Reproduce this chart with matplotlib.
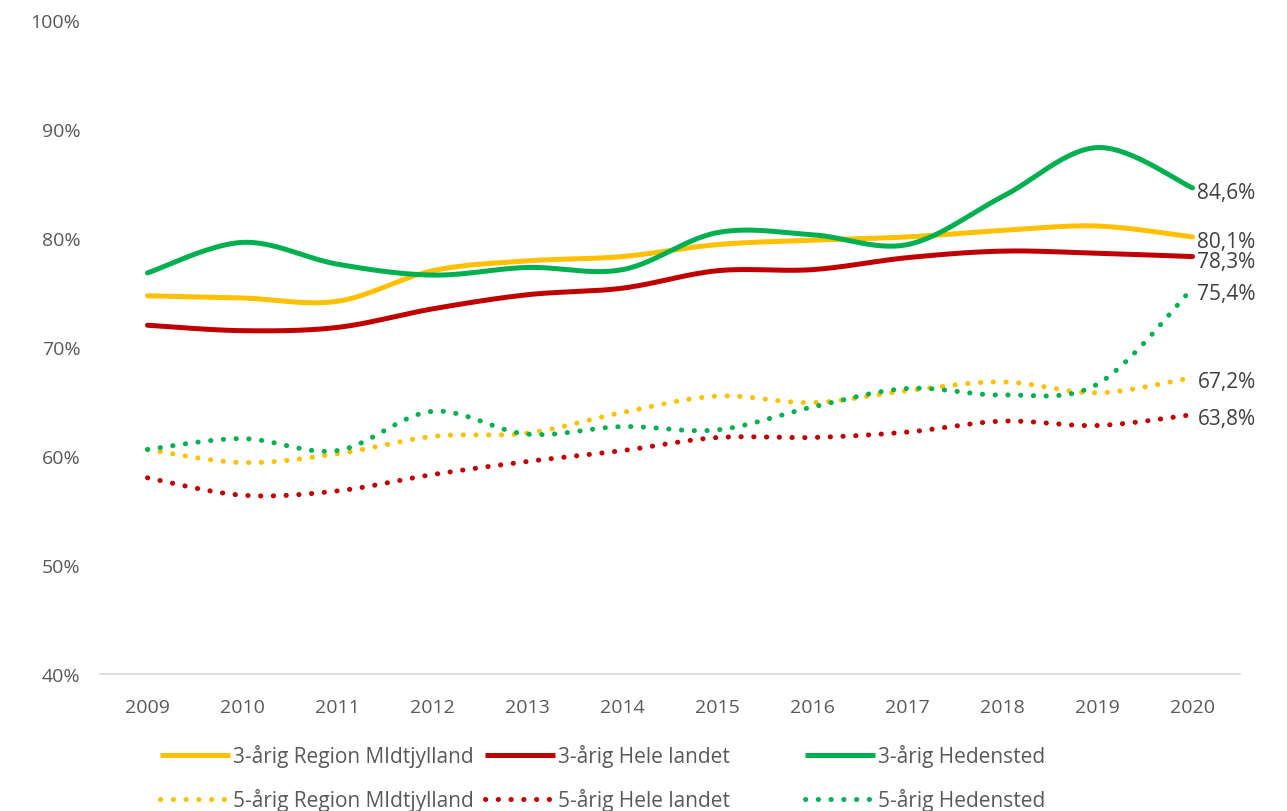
import numpy as np
import matplotlib
matplotlib.use("Agg")
import matplotlib.pyplot as plt
from matplotlib.lines import Line2D
from matplotlib.ticker import FuncFormatter

# data (andel i %)
years = [2009, 2010, 2011, 2012, 2013, 2014, 2015, 2016, 2017, 2018, 2019, 2020]

rm_3 = [74.7, 74.5, 74.2, 77.0, 77.9, 78.3, 79.4, 79.8, 80.1, 80.7, 81.1, 80.1]
hl_3 = [72.0, 71.5, 71.8, 73.5, 74.8, 75.4, 77.0, 77.1, 78.2, 78.8, 78.6, 78.3]
he_3 = [76.8, 79.6, 77.6, 76.6, 77.3, 77.1, 80.5, 80.3, 79.4, 83.8, 88.3, 84.6]

rm_5 = [60.6, 59.4, 60.2, 61.8, 62.1, 64.0, 65.5, 64.9, 66.0, 66.8, 65.8, 67.2]
hl_5 = [58.0, 56.4, 56.8, 58.3, 59.5, 60.5, 61.7, 61.7, 62.2, 63.2, 62.8, 63.8]
he_5 = [60.6, 61.6, 60.5, 64.1, 62.0, 62.7, 62.4, 64.5, 66.2, 65.6, 66.6, 75.4]

labels = ["3-årig Region MIdtjylland", "3-årig Hele landet", "3-årig Hedensted",
          "5-årig Region MIdtjylland", "5-årig Hele landet", "5-årig Hedensted"]

YELLOW = "#FFC000"
RED = "#C00000"
GREEN = "#00B050"


def smooth(x, y, n=30):
    # catmull-rom, like excel's "smoothed line"
    x = np.asarray(x, float)
    y = np.asarray(y, float)
    px = np.concatenate([[x[0]], x, [x[-1]]])
    py = np.concatenate([[y[0]], y, [y[-1]]])
    xs, ys = [], []
    t = np.linspace(0, 1, n)
    for i in range(1, len(px) - 2):
        p0, p1, p2, p3 = [np.array([px[j], py[j]]) for j in (i - 1, i, i + 1, i + 2)]
        b1 = p1 + (p2 - p0) / 6
        b2 = p2 - (p3 - p1) / 6
        pts = ((1 - t) ** 3)[:, None] * p1 + (3 * (1 - t) ** 2 * t)[:, None] * b1 \
            + (3 * (1 - t) * t ** 2)[:, None] * b2 + (t ** 3)[:, None] * p2
        xs.extend(pts[:, 0])
        ys.extend(pts[:, 1])
    return np.array(xs), np.array(ys)


plt.rcParams['font.family'] = ['Open Sans', 'DejaVu Sans']

fig = plt.figure(figsize=(12.87, 8.12), dpi=100)
ax = fig.add_axes([0.0777, 0.1687, 0.8858, 0.8054])

solid_lw = 3.6
dots = (0, (0.05, 2.5))

series = [
    (rm_3, YELLOW, "-"), (hl_3, RED, "-"), (he_3, GREEN, "-"),
    (rm_5, YELLOW, dots), (hl_5, RED, dots), (he_5, GREEN, dots),
]
handles = []
for (vals, col, ls), lab in zip(series, labels):
    sx, sy = smooth(years, vals)
    ax.plot(sx, sy, color=col, lw=solid_lw, linestyle=ls,
            solid_capstyle='round', dash_capstyle='round')
    handles.append(Line2D([], [], color=col, lw=solid_lw, linestyle=ls,
                          solid_capstyle='butt', dash_capstyle='round'))

# labels at the end
end_offsets = {0: 0, 1: -0.1, 2: 0, 3: 0, 4: 0, 5: -0.1}
for i, (vals, col, ls) in enumerate(series):
    v = vals[-1]
    txt = f"{v:.1f}".replace(".", ",") + "%"
    ax.annotate(txt, (years[-1], v + end_offsets[i]), xytext=(3.5, -3), textcoords='offset points',
                va='center', ha='left', fontsize=15, color="#404040", annotation_clip=False)

ax.set_xlim(2008.5, 2020.5)
ax.set_ylim(40, 100)
ax.set_xticks(years)
ax.set_yticks(range(40, 101, 10))
ax.yaxis.set_major_formatter(FuncFormatter(lambda v, p: f"{int(v)}%"))
ax.tick_params(axis='both', length=0, labelsize=14, colors="#595959")
ax.tick_params(axis='x', pad=17)
ax.tick_params(axis='y', pad=14)
for s in ['top', 'right', 'left']:
    ax.spines[s].set_visible(False)
ax.spines['bottom'].set_color("#D9D9D9")
ax.spines['bottom'].set_linewidth(1.2)

# legend, three columns
col_x = [0.1243, 0.3768, 0.6255]
for k, cx in enumerate(col_x):
    fig.legend([handles[k], handles[k + 3]], [labels[k], labels[k + 3]],
               loc='upper left', bbox_to_anchor=(cx, 0.082), frameon=False,
               fontsize=15, handlelength=3.35, handletextpad=0.15,
               labelspacing=1.0, labelcolor="#595959", borderaxespad=0, borderpad=0)

fig.savefig("out.png", dpi=100)
